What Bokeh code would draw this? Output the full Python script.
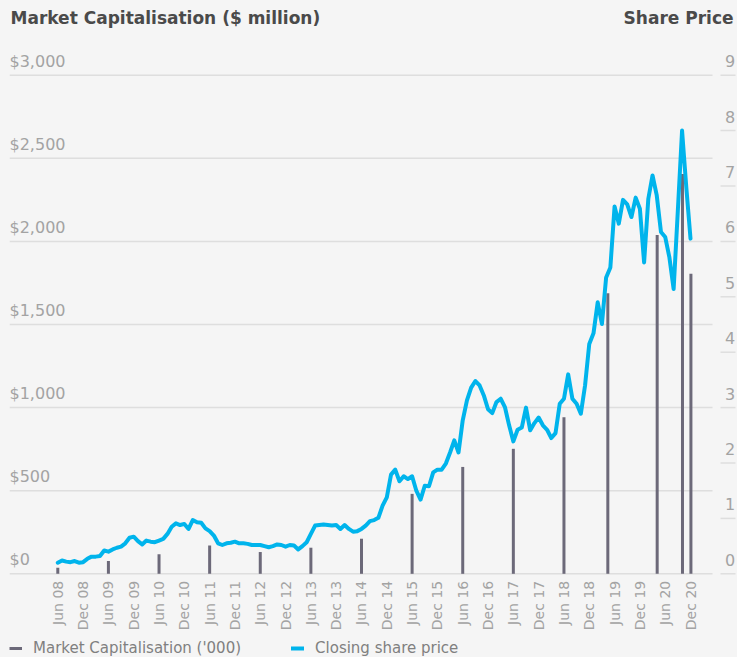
import math
from bokeh.plotting import figure
from bokeh.models import Range1d, Legend, LegendItem, ColumnDataSource
from bokeh.core.properties import value
from bokeh.embed import file_html
from bokeh.resources import INLINE

# ---------------- data ----------------
period_labels = ["Jun 08", "Dec 08", "Jun 09", "Dec 09", "Jun 10", "Dec 10", "Jun 11", "Dec 11",
                 "Jun 12", "Dec 12", "Jun 13", "Dec 13", "Jun 14", "Dec 14", "Jun 15", "Dec 15",
                 "Jun 16", "Dec 16", "Jun 17", "Dec 17", "Jun 18", "Dec 18", "Jun 19", "Dec 19",
                 "Jun 20", "Dec 20"]
period_months = [6 * i for i in range(len(period_labels))]  # months since Jun 08

# monthly closing share price, Jun 08 .. Dec 20
share_price = [
    0.20, 0.24, 0.22, 0.21, 0.23, 0.20, 0.21, 0.27, 0.31, 0.31, 0.32, 0.42,
    0.40, 0.44, 0.47, 0.49, 0.55, 0.65, 0.67, 0.59, 0.53, 0.60, 0.58, 0.57,
    0.60, 0.63, 0.72, 0.85, 0.91, 0.88, 0.90, 0.81, 0.97, 0.93, 0.92, 0.82,
    0.77, 0.69, 0.55, 0.52, 0.55, 0.56, 0.58, 0.55, 0.55, 0.54, 0.52, 0.52,
    0.52, 0.50, 0.48, 0.50, 0.53, 0.52, 0.49, 0.52, 0.51, 0.44, 0.50, 0.57,
    0.72, 0.87, 0.88, 0.89, 0.88, 0.87, 0.88, 0.81, 0.88, 0.81, 0.76, 0.77,
    0.81, 0.87, 0.95, 0.97, 1.01, 1.23, 1.38, 1.79, 1.88, 1.67, 1.76, 1.71,
    1.76, 1.50, 1.34, 1.59, 1.58, 1.83, 1.88, 1.88, 1.99, 2.19, 2.41, 2.19,
    2.77, 3.13, 3.36, 3.48, 3.40, 3.22, 2.97, 2.90, 3.10, 3.16, 3.01, 2.68,
    2.39, 2.60, 2.64, 3.00, 2.59, 2.72, 2.82, 2.68, 2.60, 2.45, 2.54, 3.07,
    3.16, 3.60, 3.16, 3.07, 2.89, 3.40, 4.15, 4.34, 4.90, 4.51, 5.35, 5.53,
    6.63, 6.32, 6.75, 6.67, 6.44, 6.79, 6.59, 5.62, 6.77, 7.19, 6.83, 6.17,
    6.08, 5.71, 5.14, 6.56, 8.00, 6.98, 6.05,
]
price_months = list(range(len(share_price)))

# market capitalisation ($ million) at reporting dates (months since Jun 08)
cap_months = [0, 12, 24, 36, 48, 60, 72, 84, 96, 108, 120, 130.4, 142.1, 148.1, 150.1]
market_cap = [36, 77, 117, 171, 131, 157, 211, 481, 643, 752, 942, 1688, 2039, 2406, 1805]

cap_ticks = [0, 500, 1000, 1500, 2000, 2500, 3000]
cap_tick_labels = ["$0", "$500", "$1,000", "$1,500", "$2,000", "$2,500", "$3,000"]
price_ticks = [0, 1, 2, 3, 4, 5, 6, 7, 8, 9]
price_tick_labels = [str(v) for v in price_ticks]

# ---------------- layout / style ----------------
FONT = "DejaVu Sans"
BG = "#f5f5f5"
CYAN = "#00b4ec"
BAR = "#6c6979"
GRID = "#dedede"
TICK_TXT = "#a3a3a3"
TITLE_TXT = "#4a4a4a"

W, H = 737, 657
LEFT = 9
FRAME_W = W - LEFT
FRAME_H = H
PX_PER_MONTH = 4.218
ORIGIN_PX = 57.3          # page x of the first month
X_START = (LEFT - ORIGIN_PX) / PX_PER_MONTH
X_END = X_START + FRAME_W / PX_PER_MONTH
GRID_END = (712 - ORIGIN_PX) / PX_PER_MONTH
RT_TICK0 = (720 - ORIGIN_PX) / PX_PER_MONTH
RT_TICK1 = (735 - ORIGIN_PX) / PX_PER_MONTH
RT_LABEL = (729.5 - ORIGIN_PX) / PX_PER_MONTH

PX_PER_CAP = 498.6 / 3000
ZERO_PX = 573.3           # page y of the $0 line
Y_START = -(FRAME_H - ZERO_PX) / PX_PER_CAP
Y_END = Y_START + FRAME_H / PX_PER_CAP
CAP_PER_PRICE = 3000 / 9

p = figure(frame_width=FRAME_W, frame_height=FRAME_H,
           x_range=Range1d(X_START, X_END), y_range=Range1d(Y_START, Y_END),
           output_backend="svg", toolbar_location=None,
           x_axis_location=None, y_axis_location=None,
           min_border_left=LEFT, min_border_right=0, min_border_top=0, min_border_bottom=0,
           background_fill_color=BG, border_fill_color=BG, outline_line_color=None)
p.extra_y_ranges = {"price": Range1d(Y_START / CAP_PER_PRICE, Y_END / CAP_PER_PRICE)}
p.xgrid.visible = False
p.ygrid.visible = False

# horizontal gridlines (left scale) and short tick marks (right scale)
n = len(cap_ticks)
p.segment(x0=[X_START] * n, y0=cap_ticks, x1=[GRID_END] * n, y1=cap_ticks,
          line_color=GRID, line_width=1.5)
m = len(price_ticks)
p.segment(x0=[RT_TICK0] * m, y0=price_ticks, x1=[RT_TICK1] * m, y1=price_ticks,
          line_color=GRID, line_width=1.5, y_range_name="price")

# y tick labels (sitting above their gridlines)
p.text(x=[X_START] * n, y=cap_ticks, text=cap_tick_labels, text_align="left",
       text_baseline="middle", y_offset=-14, text_font=value(FONT),
       text_font_size="16px", text_color=TICK_TXT)
p.text(x=[RT_LABEL] * m, y=price_ticks, text=price_tick_labels, text_align="center",
       text_baseline="middle", y_offset=-14, text_font=value(FONT),
       text_font_size="16px", text_color=TICK_TXT, y_range_name="price")

# x tick labels (rotated, hanging below the $0 line)
k = len(period_labels)
p.text(x=period_months, y=[0] * k, text=period_labels, angle=math.pi / 2,
       text_align="right", text_baseline="middle", y_offset=7,
       text_font=value(FONT), text_font_size="14px", text_color=TICK_TXT)

# titles
p.text(x=[X_START], y=[Y_END], text=["Market Capitalisation ($ million)"], text_align="left",
       text_baseline="middle", x_offset=1, y_offset=17, text_font=value(FONT),
       text_font_style="bold", text_font_size="17px", text_color=TITLE_TXT)
p.text(x=[X_END], y=[Y_END], text=["Share Price"], text_align="right",
       text_baseline="middle", x_offset=-4, y_offset=17, text_font=value(FONT),
       text_font_style="bold", text_font_size="17px", text_color=TITLE_TXT)

# market cap bars
bar_src = ColumnDataSource(dict(x=cap_months, top=market_cap, base=[0] * len(cap_months)))
bar_r = p.segment(x0="x", y0="base", x1="x", y1="top", source=bar_src,
                  line_color=BAR, line_width=3)

# share price line
line_src = ColumnDataSource(dict(x=price_months, y=share_price))
line_r = p.line(x="x", y="y", source=line_src, y_range_name="price",
                line_color=CYAN, line_width=4, line_join="round", line_cap="round")

legend = Legend(items=[LegendItem(label="Market Capitalisation ('000)", renderers=[bar_r]),
                       LegendItem(label="Closing share price", renderers=[line_r])],
                orientation="horizontal", location="bottom_left", margin=0, padding=0,
                spacing=50, glyph_width=13, glyph_height=18, label_height=18,
                label_standoff=11,
                label_text_font=FONT, label_text_font_size="15px", label_text_color="#808080",
                border_line_color=None, background_fill_alpha=0)
p.add_layout(legend)

html = file_html(p, INLINE)
html = html.replace("</head>", "<style>html,body{background:#f5f5f5;}</style></head>", 1)
open("out.html", "w").write(html)
